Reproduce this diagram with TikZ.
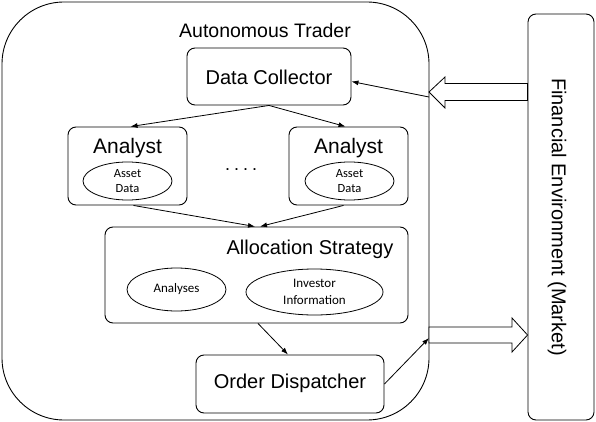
\documentclass[tikz,border=0pt]{standalone}
\usepackage{fontspec}
\setmainfont{Liberation Sans}
\newfontfamily\smallfont{Carlito}
\usetikzlibrary{shapes.geometric,arrows.meta,calc}
\begin{document}
\begin{tikzpicture}[x=1pt,y=-1pt,
  box/.style={draw,line width=0.9pt,rounded corners=8pt,inner sep=0pt},
  oval/.style={draw,line width=0.8pt,ellipse,inner sep=0pt,align=center,font=\smallfont\fontsize{12.5}{15}\selectfont},
  big/.style={inner sep=0pt,font=\fontsize{20}{24}\selectfont},
  conn/.style={line width=0.8pt,-{Latex[length=7pt,width=5pt]}},
  blockarrow/.style={draw,line width=0.8pt,fill=white}]
\useasboundingbox (0,0) rectangle (596,422);
% outer frame
\draw[line width=0.9pt,rounded corners=62pt] (2,2) rectangle (429,420);
\node[big,font=\fontsize{19.5}{24}\selectfont] (title) at (265,31) {Autonomous Trader};
% market
\node[box,minimum width=66pt,minimum height=406pt] (mkt) at (561,217) {};
\node[big,rotate=-90] (mktt) at (557,217) {Financial Environment (Market)};
% data collector
\node[box,minimum width=164pt,minimum height=57pt] (dc) at (269,76.5) {};
\node[big] (dct) at (269,77) {Data Collector};
% analysts
\node[box,minimum width=119pt,minimum height=78pt] (an1) at (127.5,166) {};
\node[big,font=\fontsize{21}{24}\selectfont] (an1t) at (127.5,148) {Analyst};
\node[oval,minimum width=89pt,minimum height=38pt] (ad1) at (127.5,181) {Asset\\Data};
\node[box,minimum width=119pt,minimum height=78pt] (an2) at (348.5,166) {};
\node[big,font=\fontsize{21}{24}\selectfont] (an2t) at (348.5,148) {Analyst};
\node[oval,minimum width=89pt,minimum height=38pt] (ad2) at (349.5,181) {Asset\\Data};
\node[inner sep=0pt,font=\fontsize{18}{20}\selectfont] (dots) at (241,170) {.\hspace{4pt}.\hspace{4pt}.\hspace{4pt}.};
% allocation
\node[box,minimum width=303pt,minimum height=96pt] (al) at (256.5,275) {};
\node[big] (alt) at (310,249) {Allocation Strategy};
\node[oval,font=\smallfont\fontsize{13}{17}\selectfont,minimum width=99pt,minimum height=43pt] (ana) at (176.5,289.5) {Analyses};
\node[oval,font=\smallfont\fontsize{13}{17}\selectfont,minimum width=137pt,minimum height=46pt] (inv) at (314.5,292) {Investor\\Information};
% order dispatcher
\node[box,minimum width=188pt,minimum height=58pt] (od) at (290,384) {};
\node[big] (odt) at (290,383) {Order Dispatcher};
% block arrows
\coordinate (inTip) at (429,92);
\coordinate (outTip) at (mkt.west |- 0,335);
\draw[blockarrow] (inTip) -- (445,77) -- (445,83.5) -- (mkt.west |- 0,83.5) -- (mkt.west |- 0,100.5) -- (445,100.5) -- (445,108) -- cycle;
\draw[blockarrow] (outTip) -- (512,318) -- (512,327) -- (429,327) -- (429,343) -- (512,343) -- (512,352) -- cycle;
% connectors
\coordinate (inEnd) at (429,97);
\coordinate (outEnd) at (429,338);
\draw[conn] (inEnd) -- ($(dc.east)+(0,5)$);
\draw[conn] (dc.south) -- ($(an1.north)+(3,0)$);
\draw[conn] (dc.south) -- ($(an2.north)+(-3,0)$);
\draw[conn] ($(an1.south)+(6,0)$) -- ($(al.north)+(-1.5,0)$);
\draw[conn] ($(an2.south)+(-5,0)$) -- ($(al.north)+(3.5,0)$);
\draw[conn] ($(al.south)+(1.5,0)$) -- ($(od.north)+(-2,0)$);
\draw[conn] (od.east) -- (outEnd);
\end{tikzpicture}
\end{document}
